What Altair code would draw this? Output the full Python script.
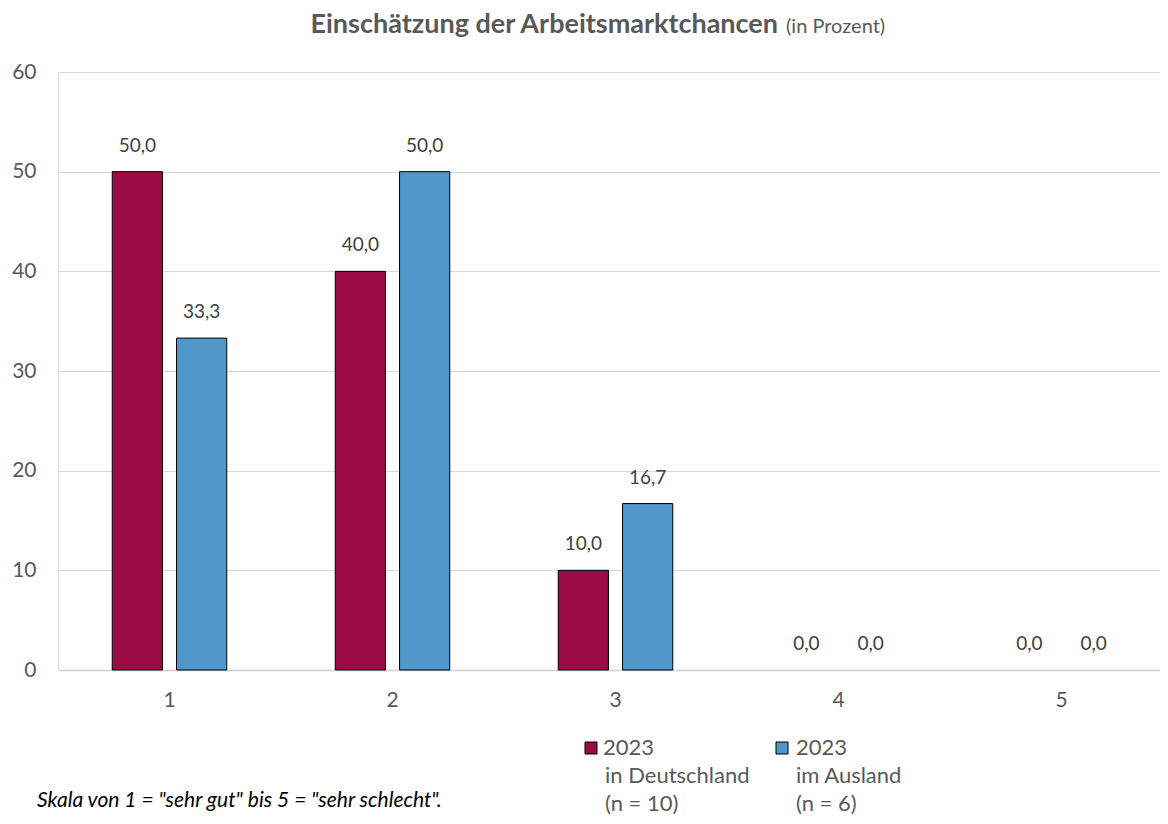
import altair as alt
import pandas as pd

categories = ["1", "2", "3", "4", "5"]
series_keys = ["Deutschland", "Ausland"]
deutschland = [50.0, 40.0, 10.0, 0.0, 0.0]
ausland = [33.3, 50.0, 16.7, 0.0, 0.0]
colors = ["#9a0c43", "#5097cb"]
y_ticks = [0, 10, 20, 30, 40, 50, 60]

title_main = "Einschätzung der Arbeitsmarktchancen"
title_sub = "(in Prozent)"
legend_lines_de = ["2023", "in Deutschland", "(n = 10)"]
legend_lines_au = ["2023", "im Ausland", "(n = 6)"]
footnote = 'Skala von 1 = "sehr gut" bis 5 = "sehr schlecht".'

FONT = "Lato"
GRAY = "#595959"

rows = []
for i, c in enumerate(categories):
    for key, vals in zip(series_keys, [deutschland, ausland]):
        v = vals[i]
        rows.append({"cat": c, "series": key, "value": v,
                     "label": f"{v:.1f}".replace(".", ",")})
df = pd.DataFrame(rows)

base = alt.Chart(df)

x_enc = alt.X("cat:N", sort=categories,
              scale=alt.Scale(range=[0, 1115], paddingInner=0, paddingOuter=0),
              axis=alt.Axis(title=None, labelAngle=0, ticks=False, labelPadding=19,
                            labelFontSize=21, labelColor=GRAY, labelFont=FONT,
                            domainColor="#d0d0d0", domainWidth=1.5, grid=False))
xoff_enc = alt.XOffset("series:N", sort=series_keys,
                       scale=alt.Scale(paddingInner=0.21875, paddingOuter=0.8438))
y_enc = alt.Y("value:Q", scale=alt.Scale(domain=[0, 60], nice=False),
              axis=alt.Axis(title=None, values=y_ticks, ticks=False, labelPadding=22,
                            labelFontSize=21, labelColor=GRAY, labelFont=FONT,
                            gridColor="#d9d9d9", gridWidth=1,
                            domainColor="#d9d9d9", domainWidth=1))

bars = base.transform_filter("datum.value > 0").mark_bar(
    stroke="black", strokeWidth=1
).encode(
    x=x_enc, xOffset=xoff_enc, y=y_enc,
    color=alt.Color("series:N", sort=series_keys,
                    scale=alt.Scale(domain=series_keys, range=colors), legend=None),
)

labels = base.mark_text(baseline="middle", dy=-26, fontSize=19, color="#404040",
                        font=FONT).encode(
    x=x_enc, xOffset=xoff_enc, y=y_enc, text="label:N"
)


def ann(text, x, y, **kw):
    return alt.Chart(pd.DataFrame({"t": [text]})).mark_text(**kw).encode(
        x=alt.value(x), y=alt.value(y), text="t:N"
    )


def box(x0, x1, y0, y1, color):
    return alt.Chart(pd.DataFrame({"t": [0]})).mark_rect(
        color=color, stroke="black", strokeWidth=1
    ).encode(x=alt.value(x0), x2=alt.value(x1), y=alt.value(y0), y2=alt.value(y1))


layers = [bars, labels,
          ann(title_main, 720, -39, align="right", baseline="alphabetic", fontSize=27,
              fontWeight="bold", font=FONT, color=GRAY),
          ann(title_sub, 728, -39, align="left", baseline="alphabetic", fontSize=20,
              font=FONT, color=GRAY),
          ann(footnote, -21, 735, align="left", baseline="alphabetic", fontSize=21,
              fontStyle="italic", font=FONT, color="#000000"),
          box(527, 539, 670, 682, colors[0]),
          box(718, 730, 670, 682, colors[1])]

for j, line in enumerate(legend_lines_de):
    layers.append(ann(line, 545 if j == 0 else 547, 676 + 28 * j, align="left",
                      baseline="middle", fontSize=22, font=FONT, color=GRAY))
for j, line in enumerate(legend_lines_au):
    layers.append(ann(line, 738, 676 + 28 * j, align="left",
                      baseline="middle", fontSize=22, font=FONT, color=GRAY))

chart = alt.layer(*layers).properties(
    width=1102, height=598,
    autosize=alt.AutoSizeParams(type="none"),
    padding={"left": 50, "top": 64, "right": 0, "bottom": 146},
).configure_view(strokeWidth=0)

chart.save("out.html", embed_options={"renderer": "svg", "actions": False})
